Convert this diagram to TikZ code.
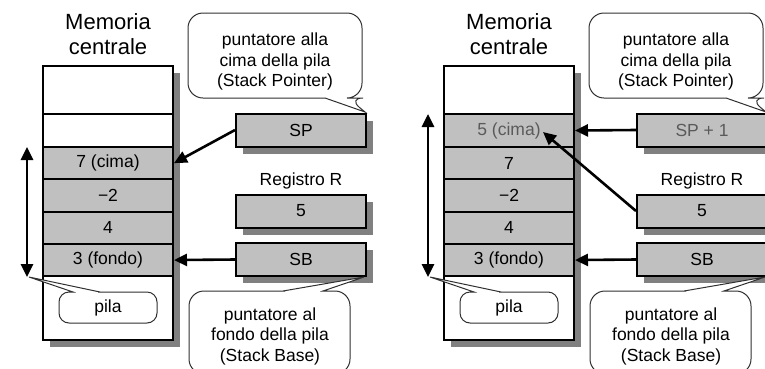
\documentclass[tikz,border=0pt]{standalone}
\usepackage{fontspec}
\setmainfont{Liberation Sans}
\usetikzlibrary{arrows.meta,shadows}
\definecolor{cellgray}{HTML}{C0C0C0}
\definecolor{shadegray}{HTML}{808080}
\definecolor{softtext}{HTML}{5A5A5A}
\definecolor{talkline}{HTML}{303030}

\begin{document}
\begin{tikzpicture}[x=1bp,y=-1bp,
  txt/.style={font=\fontsize{17.5bp}{20bp}\selectfont},
  title/.style={font=\fontsize{22bp}{25bp}\selectfont, align=center},
  boxshadow/.style={drop shadow={shadow xshift=7bp, shadow yshift=-7bp, opacity=1, fill=shadegray, draw=none}},
  memcol/.style={draw, line width=2bp, fill=white, minimum width=130bp, minimum height=274bp, inner sep=0pt, boxshadow},
  cell/.style={draw, line width=2bp, fill=cellgray, minimum width=130bp, minimum height=32.3bp, inner sep=0pt, txt},
  blank/.style={draw, line width=2bp, fill=white, minimum width=130bp, inner sep=0pt},
  reg/.style={draw, line width=2bp, fill=cellgray, minimum width=130bp, minimum height=33bp, inner sep=0pt, txt, boxshadow},
  ptr/.style={line width=2.6bp, -{Triangle[length=13bp,width=12bp]}},
  span/.style={line width=2.8bp, {Triangle[length=13bp,width=12bp]}-{Triangle[length=13bp,width=12bp]}},
  talk/.style={draw=talkline, line width=1bp, fill=white},
  talktext/.style={align=center, font=\fontsize{17.5bp}{20.5bp}\selectfont}
]
\useasboundingbox (0,0) rectangle (765,368);
\clip (0,0) rectangle (765,368);

% ---------------- left: stack before the push ----------------
\node[title] (Ltitle) at (108,34.5) {Memoria\\centrale};
\node[memcol] (Lmem) at (108,203) {};
\node[blank, minimum height=48bp] (Lw1) at (108,90) {};
\node[blank, minimum height=33bp] (Lw2) at (108,130.5) {};
\node[cell] (Lc7) at (108,163.15) {7 (cima)};
\node[cell] (Lc2) at (108,195.45) {−2};
\node[cell] (Lc4) at (108,227.75) {4};
\node[cell] (Lc3) at (108,260.05) {3 (fondo)};

\coordinate (Ltop) at (27,147);
\coordinate (Lbot) at (27,277);
\draw[span] (Lbot) -- (Ltop);

% "pila" label
\path[talk] (108,292) -- (100,292) -- (29,277) -- (73,292)
  [rounded corners=10bp] -- (59,292) -- (59,323) -- (157,323) -- (157,292) -- cycle;
\node[txt] (Lpila) at (108,307.5) {pila};

% registers
\node[reg] (Lsp) at (301,130) {SP};
\node[txt] (Lregl) at (301,181) {Registro R};
\node[reg] (Lreg) at (301,211) {5};
\node[reg] (Lsb) at (301,259.5) {SB};

\draw[ptr] (Lsp.west) -- (Lc7.east);
\draw[ptr] (Lsb.west) -- (Lc3.east);

% callouts
\path[talk] (275,13) [rounded corners=15bp] -- (362,13) -- (362,98) -- (348,98)
  [sharp corners] -- (365,112) -- (325,98) [rounded corners=15bp] -- (188,98) -- (188,13) -- cycle;
\node[talktext] (Lsptext) at (275,61.5) {puntatore alla\\cima della pila\\(Stack Pointer)};

\path[talk] (270,291) -- (283,291) -- (364,277) -- (323,291)
  [rounded corners=15bp] -- (350,291) -- (350,374) -- (189,374) -- (189,291) -- cycle;
\node[talktext] (Lsbtext) at (270,336) {puntatore al\\fondo della pila\\(Stack Base)};

% ---------------- right: stack after the push ----------------
\begin{scope}[xshift=401bp]
\node[title] (Rtitle) at (108,34.5) {Memoria\\centrale};
\node[memcol] (Rmem) at (108,203) {};
\node[blank, minimum height=48bp] (Rw1) at (108,90) {};
\node[cell, minimum height=33bp, text=softtext] (Rc5) at (108,130.5) {5 (cima)};
\node[cell] (Rc7) at (108,163.15) {7};
\node[cell] (Rc2) at (108,195.45) {−2};
\node[cell] (Rc4) at (108,227.75) {4};
\node[cell] (Rc3) at (108,260.05) {3 (fondo)};
\coordinate (Rc5tip) at (142,132);

\coordinate (Rtop) at (27,114);
\coordinate (Rbot) at (27,277);
\draw[span] (Rbot) -- (Rtop);

\path[talk] (108,292) -- (100,292) -- (29,277) -- (73,292)
  [rounded corners=10bp] -- (59,292) -- (59,323) -- (157,323) -- (157,292) -- cycle;
\node[txt] (Rpila) at (108,307.5) {pila};

\node[reg, text=softtext] (Rsp) at (301,130) {SP + 1};
\node[txt] (Rregl) at (301,181) {Registro R};
\node[reg] (Rreg) at (301,211) {5};
\node[reg] (Rsb) at (301,259.5) {SB};

\draw[ptr] (Rsp.west) -- (Rc5.east);
\draw[ptr] (Rreg.west) -- (Rc5tip);
\draw[ptr] (Rsb.west) -- (Rc3.east);

\path[talk] (275,13) [rounded corners=15bp] -- (362,13) -- (362,98) -- (348,98)
  [sharp corners] -- (365,112) -- (325,98) [rounded corners=15bp] -- (188,98) -- (188,13) -- cycle;
\node[talktext] (Rsptext) at (275,61.5) {puntatore alla\\cima della pila\\(Stack Pointer)};

\path[talk] (270,291) -- (283,291) -- (364,277) -- (323,291)
  [rounded corners=15bp] -- (350,291) -- (350,374) -- (189,374) -- (189,291) -- cycle;
\node[talktext] (Rsbtext) at (270,336) {puntatore al\\fondo della pila\\(Stack Base)};
\end{scope}
\end{tikzpicture}
\end{document}
